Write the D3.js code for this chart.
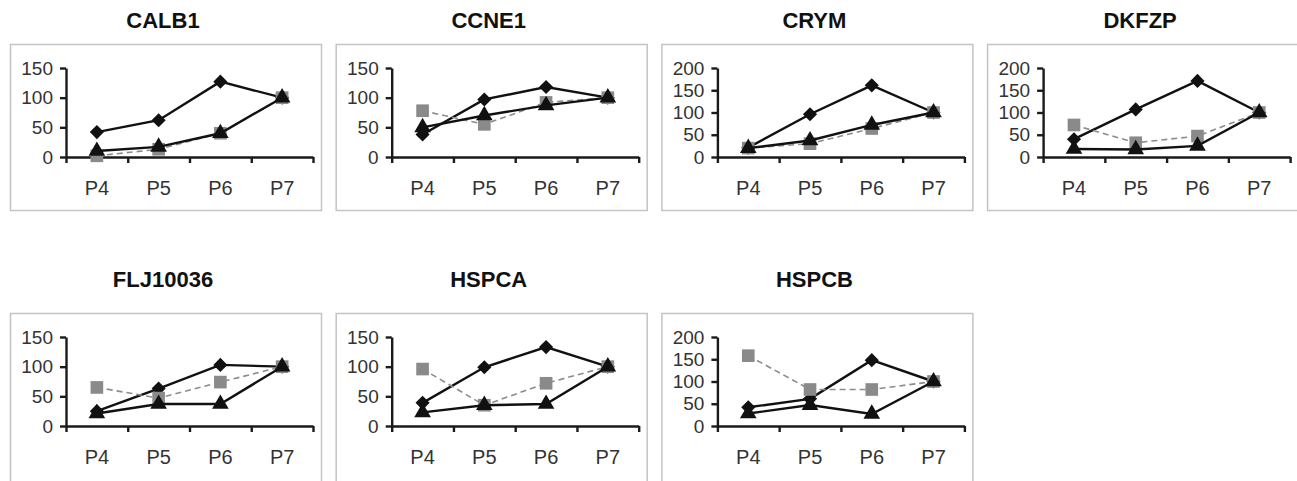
<!DOCTYPE html>
<html>
<head>
<meta charset="utf-8">
<script src="https://cdn.jsdelivr.net/npm/d3@7"></script>
<style>
  body { margin: 0; background: #fff; }
  svg { display: block; font-family: Arial, "Liberation Sans", sans-serif; }
</style>
</head>
<body>
<div id="chart"></div>
<script>
// stages on the x axis
const stages = ["P4", "P5", "P6", "P7"];
// one entry per gene panel, in reading order
const genes = ["CALB1", "CCNE1", "CRYM", "DKFZP", "FLJ10036", "HSPCA", "HSPCB"];
const yMax = [150, 150, 200, 200, 150, 150, 200];
const yTicks150 = [0, 50, 100, 150];
const yTicks200 = [0, 50, 100, 150, 200];

// series values (diamond = solid black, square = gray dashed, triangle = solid black)
const diamondVals = [
    [42, 62, 127, 100],
    [38, 97, 118, 100],
    [21, 96, 161, 100],
    [40, 107, 171, 100],
    [25, 63, 103, 100],
    [39, 99, 133, 100],
    [42, 61, 148, 100]
];
const squareVals = [
    [2, 13, 40, 100],
    [78, 55, 92, 100],
    [20, 30, 64, 100],
    [72, 32, 47, 100],
    [65, 47, 74, 100],
    [96, 35, 72, 100],
    [158, 82, 82, 100]
];
const triangleVals = [
    [10, 17, 40, 100],
    [50, 70, 87, 100],
    [20, 37, 72, 100],
    [18, 17, 25, 100],
    [21, 37, 37, 100],
    [23, 35, 37, 100],
    [28, 47, 27, 100]
];

const W = 1297, H = 481;
const svg = d3.select("#chart").append("svg")
    .attr("width", W)
    .attr("height", H);

const panel = {
    "width": 311,
    "colStep": 325.7,
    "left": 10,
    "axisLeft": 56,
    "axisRight": 303
};
const rows = [
    {"top": 44, "height": 166, "titleY": 28},
    {"top": 313, "height": 175, "titleY": 287}
];

const series = [
    {"vals": diamondVals, "line": "#111", "dash": null, "width": 2.4,
     "symbol": d3.symbol().type(d3.symbolSquare).size(100), "rotate": 45, "fill": "#111"},
    {"vals": squareVals, "line": "#8c8c8c", "dash": "6,4", "width": 1.6,
     "symbol": d3.symbol().type(d3.symbolSquare).size(160), "rotate": 0, "fill": "#8a8a8a"},
    {"vals": triangleVals, "line": "#111", "dash": null, "width": 2.4,
     "symbol": d3.symbol().type(d3.symbolTriangle).size(120), "rotate": 0, "fill": "#111"}
];

genes.forEach((gene, i) => {
    let row = rows[Math.floor(i / 4)];
    let bx = panel.left + (i % 4) * panel.colStep;
    let by = row.top;

    let g = svg.append("g").attr("transform", "translate(" + bx + "," + by + ")");

    g.append("rect")
        .attr("x", 0.5).attr("y", 0.5)
        .attr("width", panel.width).attr("height", row.height)
        .attr("fill", "none")
        .attr("stroke", "#c4c4c4")
        .attr("stroke-width", 1.5);

    svg.append("text")
        .attr("x", bx + 153)
        .attr("y", row.titleY)
        .attr("text-anchor", "middle")
        .attr("font-size", 22)
        .attr("font-weight", "bold")
        .attr("fill", "#111")
        .text(gene);

    let xBand = d3.scaleBand().domain(stages).range([panel.axisLeft, panel.axisRight]);
    let xTickScale = d3.scaleLinear().domain([0, stages.length]).range([panel.axisLeft, panel.axisRight]);
    let yScale = d3.scaleLinear().domain([0, yMax[i]]).range([113, 24]);

    // y axis
    let yAxis = d3.axisLeft(yScale)
        .tickValues(yMax[i] === 200 ? yTicks200 : yTicks150)
        .tickSize(6)
        .tickSizeOuter(0)
        .tickPadding(7);
    let ya = g.append("g")
        .attr("transform", "translate(" + panel.axisLeft + ",0)")
        .call(yAxis);
    ya.selectAll("text").attr("font-size", 19).attr("fill", "#333").attr("font-family", "Arial, 'Liberation Sans', sans-serif");

    // x axis line with ticks between categories
    let xAxis = d3.axisBottom(xTickScale)
        .tickValues(d3.range(stages.length + 1))
        .tickFormat("")
        .tickSize(6)
        .tickSizeOuter(0);
    let xa = g.append("g")
        .attr("transform", "translate(0," + yScale(0) + ")")
        .call(xAxis);

    // category labels
    let xl = g.append("g")
        .attr("transform", "translate(0," + yScale(0) + ")")
        .call(d3.axisBottom(xBand).tickSize(0).tickPadding(24));
    xl.select(".domain").remove();
    xl.selectAll("text").attr("font-size", 20).attr("fill", "#333").attr("font-family", "Arial, 'Liberation Sans', sans-serif");

    [ya, xa].forEach(a => {
        a.selectAll(".domain, line").attr("stroke", "#1a1a1a").attr("stroke-width", 2.4);
    });

    let line = d3.line()
        .x((d, j) => xBand(stages[j]) + xBand.bandwidth() / 2)
        .y(d => yScale(d));

    series.forEach(s => {
        let vals = s.vals[i];
        g.append("path")
            .datum(vals)
            .attr("d", line)
            .attr("fill", "none")
            .attr("stroke", s.line)
            .attr("stroke-width", s.width)
            .attr("stroke-dasharray", s.dash);

        g.selectAll(null)
            .data(vals)
            .enter().append("path")
            .attr("d", s.symbol)
            .attr("fill", s.fill)
            .attr("transform", (d, j) => "translate(" + (xBand(stages[j]) + xBand.bandwidth() / 2) + "," + yScale(d) + ") rotate(" + s.rotate + ")");
    });
});
</script>
</body>
</html>
